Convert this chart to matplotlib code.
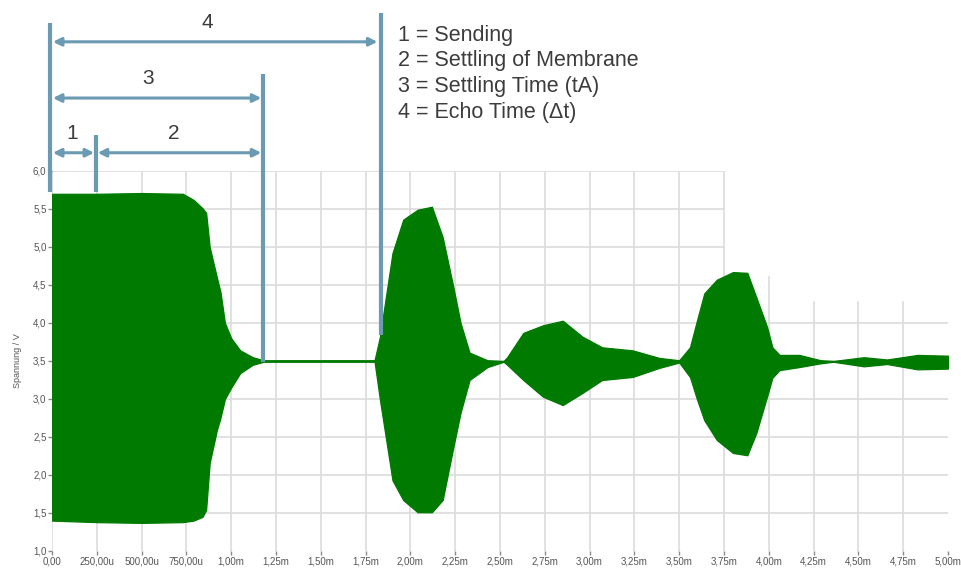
import matplotlib
matplotlib.use('Agg')
import matplotlib.pyplot as plt

plt.rcParams['font.family'] = ['Liberation Sans', 'DejaVu Sans']

# envelope of the ultrasonic signal (time in ms, voltage in V)
t_ms = [0.00, 0.25, 0.50, 0.73, 0.79, 0.84, 0.86, 0.88, 0.92, 0.94, 0.965, 1.00,
        1.05, 1.12, 1.18, 1.80, 1.83, 1.90, 1.96, 2.04, 2.12, 2.18, 2.24, 2.28,
        2.33, 2.43, 2.52, 2.54, 2.63, 2.74, 2.85, 2.96, 3.07, 3.24, 3.39, 3.50,
        3.56, 3.60, 3.64, 3.71, 3.80, 3.88, 3.93, 3.99, 4.02, 4.06, 4.17, 4.29,
        4.36, 4.53, 4.66, 4.83, 5.00]
upper = [5.70, 5.70, 5.71, 5.70, 5.62, 5.51, 5.45, 5.00, 4.60, 4.41, 4.00, 3.80,
         3.64, 3.55, 3.51, 3.51, 3.82, 4.92, 5.36, 5.49, 5.53, 5.13, 4.47, 4.00,
         3.61, 3.51, 3.50, 3.55, 3.87, 3.97, 4.03, 3.82, 3.68, 3.64, 3.54, 3.51,
         3.68, 4.04, 4.39, 4.57, 4.67, 4.66, 4.34, 3.95, 3.68, 3.58, 3.58, 3.51,
         3.50, 3.55, 3.52, 3.58, 3.57]
lower = [1.40, 1.38, 1.37, 1.38, 1.40, 1.45, 1.54, 2.16, 2.59, 2.75, 3.00, 3.15,
         3.34, 3.45, 3.49, 3.49, 2.99, 1.93, 1.67, 1.51, 1.51, 1.67, 2.37, 2.82,
         3.25, 3.42, 3.49, 3.45, 3.25, 3.03, 2.92, 3.08, 3.25, 3.29, 3.41, 3.48,
         3.29, 2.99, 2.72, 2.46, 2.29, 2.26, 2.55, 3.03, 3.28, 3.38, 3.42, 3.47,
         3.49, 3.43, 3.46, 3.39, 3.40]

x_ticks = [0.0, 0.25, 0.5, 0.75, 1.0, 1.25, 1.5, 1.75, 2.0, 2.25, 2.5, 2.75,
           3.0, 3.25, 3.5, 3.75, 4.0, 4.25, 4.5, 4.75, 5.0]
x_labels = ['0,00', '250,00u', '500,00u', '750,00u', '1,00m', '1,25m', '1,50m',
            '1,75m', '2,00m', '2,25m', '2,50m', '2,75m', '3,00m', '3,25m',
            '3,50m', '3,75m', '4,00m', '4,25m', '4,50m', '4,75m', '5,00m']
y_ticks = [1.0, 1.5, 2.0, 2.5, 3.0, 3.5, 4.0, 4.5, 5.0, 5.5, 6.0]
y_labels = ['1,0', '1,5', '2,0', '2,5', '3,0', '3,5', '4,0', '4,5', '5,0', '5,5', '6,0']

# marker times (ms) for the annotation
t_start, t_send, t_settle, t_echo = 0.0, 0.245, 1.178, 1.836
legend_lines = ['1 = Sending', '2 = Settling of Membrane',
                '3 = Settling Time (tA)', '4 = Echo Time (\u0394t)']

green = '#007a00'
blue = '#6b9ab3'
grid_c = '#dcdcdc'
txt_c = '#3c3c3c'

fig = plt.figure(figsize=(9.62, 5.72), dpi=100)
ax = fig.add_axes([52 / 962, 1 - 551 / 572, 896 / 962, 380 / 572])
ax.set_xlim(0, 5.0)
ax.set_ylim(1.0, 6.0)
for s in ax.spines.values():
    s.set_visible(False)

# grid (upper right part of the grid is blanked in the original)
for yv in y_ticks[1:]:
    xe = 3.75 if yv >= 4.5 else 5.01
    ax.plot([0, xe], [yv, yv], color=grid_c, lw=1.2, zorder=0)
for xv in x_ticks[:-1]:
    if xv >= 4.25:
        ye = 4.27
    elif xv >= 4.0:
        ye = 4.6
    else:
        ye = 6.0
    ax.plot([xv, xv], [1.0, ye], color=grid_c, lw=1.2, zorder=0)

ax.fill_between(t_ms, lower, upper, color=green, lw=0.9, edgecolor=green, zorder=2)

ax.set_xticks(x_ticks)
ax.set_xticklabels(x_labels)
ax.set_yticks(y_ticks)
ax.set_yticklabels(y_labels)
ax.tick_params(axis='both', labelsize=7, colors='#8a8a8a', labelcolor='#555555',
               length=3, width=1, pad=1)
ax.set_ylabel('Spannung / V', fontsize=6.5, color='#555555', labelpad=8)

# annotation lines and arrows
kw = dict(color=blue, lw=3, solid_capstyle='butt', clip_on=False, zorder=4)
ax.plot([t_start - 0.012, t_start - 0.012], [5.72, 7.95], **kw)
ax.plot([t_send, t_send], [5.72, 6.47], **kw)
ax.plot([t_settle, t_settle], [3.49, 7.28], **kw)
ax.plot([t_echo, t_echo], [3.84, 8.08], **kw)

def arrow(x0, x1, y, label, lx, ly):
    ax.annotate('', xy=(x1, y), xytext=(x0, y), xycoords='data',
                arrowprops=dict(arrowstyle='<|-|>', color=blue, lw=2.2,
                                mutation_scale=12, shrinkA=0, shrinkB=0),
                annotation_clip=False, zorder=4)
    ax.text(lx, ly, label, fontsize=15, color=txt_c, ha='center', va='center',
            clip_on=False)

arrow(t_start + 0.005, t_echo - 0.02, 7.70, '4', 0.865, 7.95)
arrow(t_start + 0.005, t_settle - 0.01, 6.96, '3', 0.535, 7.22)
arrow(t_start + 0.005, t_send - 0.01, 6.24, '1', 0.11, 6.49)
arrow(t_send + 0.01, t_settle - 0.01, 6.24, '2', 0.68, 6.49)

for i, s in enumerate(legend_lines):
    fig.text(398 / 962, 1 - (35 + i * 25.7) / 572, s, fontsize=15.5, color=txt_c,
             ha='left', va='center')

fig.savefig('out.png', dpi=100)
